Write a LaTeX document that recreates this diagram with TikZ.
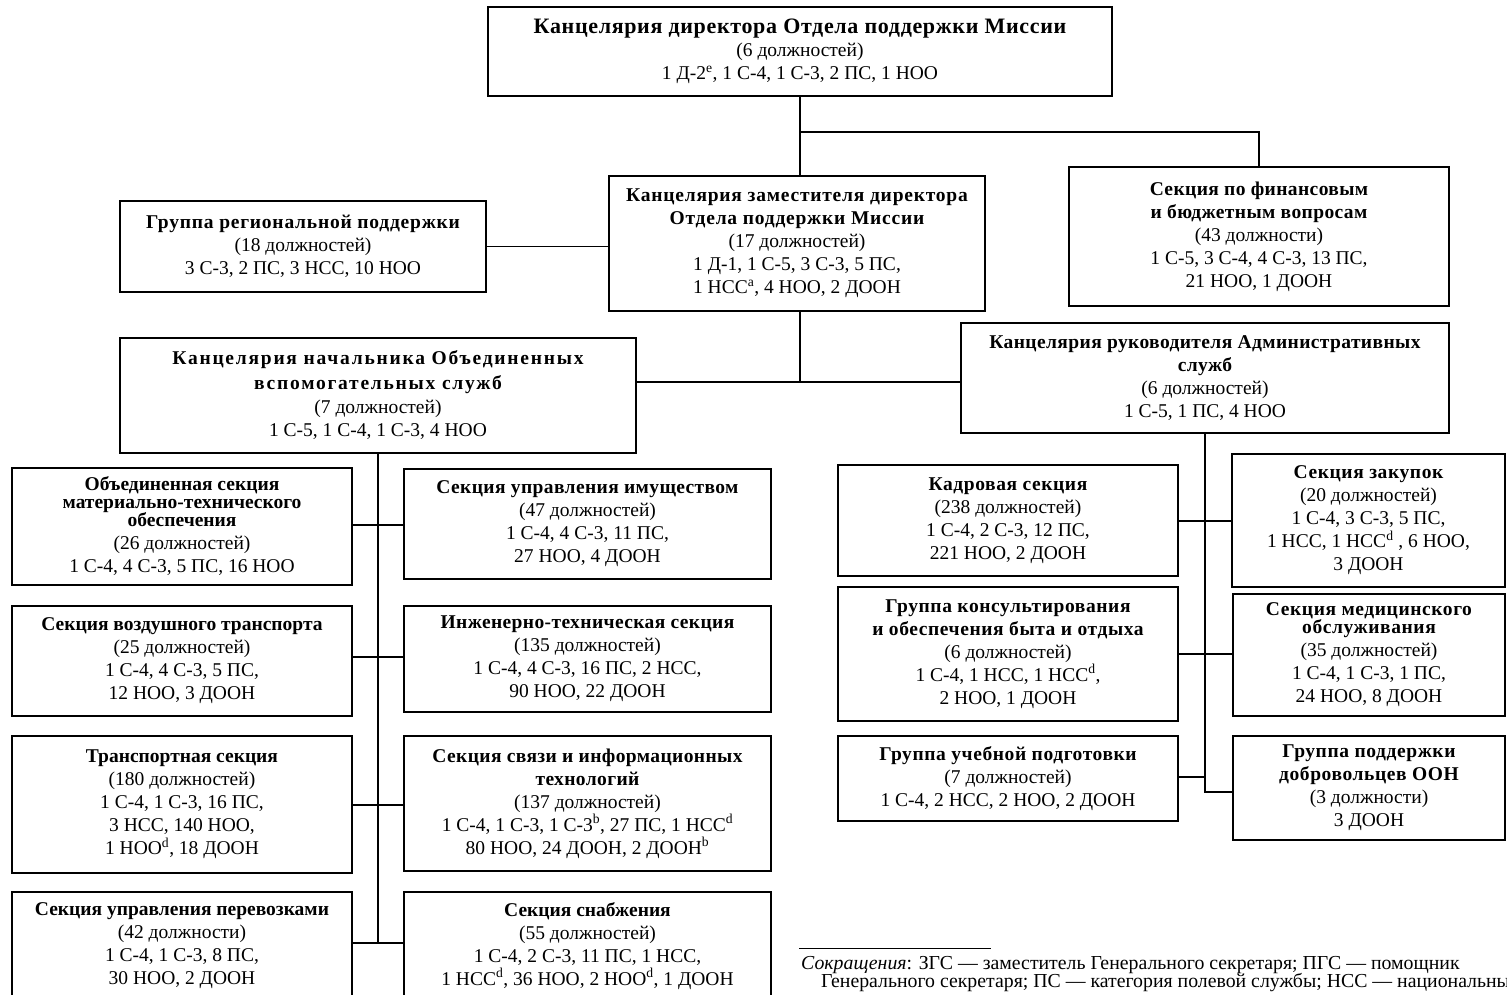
\documentclass[tikz,border=0pt]{standalone}
\usepackage{fontspec}
\setmainfont{Liberation Serif}
\newfontfamily\fnfont{Liberation Serif}
\tikzset{
  box/.style={draw, line width=1.5pt, align=center, inner sep=0pt,
    font=\fontsize{19.5}{23}\selectfont},
  conn/.style={line width=1.5pt},
}
\newcommand\mybox[6]{%
  \pgfmathsetmacro\cxx{(#2+#4)/2}\pgfmathsetmacro\cyy{(#3+#5)/2}%
  \pgfmathsetmacro\ww{#4-#2}\pgfmathsetmacro\hh{#5-#3}%
  \node[box, minimum width=\ww pt, minimum height=\hh pt] (#1) at (\cxx,\cyy) {#6};}
\newcommand\sx[1]{\textsuperscript{#1}}
\newcommand\tls[2]{{\bfseries\addfontfeature{LetterSpace=#1}#2}}
\begin{document}
\begin{tikzpicture}[x=1pt,y=-1pt]
\useasboundingbox (0,0) rectangle (1507,995);
\clip (0,0) rectangle (1507,995);
\fill[white] (0,0) rectangle (1507,995);
% top level
\mybox{top}{488}{7}{1112}{96}{\fontsize{21}{24}\selectfont{\fontsize{22}{24}\selectfont\tls{3}{Канцелярия директора Отдела поддержки Миссии}}\\(6 должностей)\\1 Д-2\sx{e}, 1 С-4, 1 С-3, 2 ПС, 1 НОО}
\mybox{dep}{609}{176}{985}{311}{\tls{4}{Канцелярия заместителя директора}\\\tls{4}{Отдела поддержки Миссии}\\(17 должностей)\\1 Д-1, 1 С-5, 3 С-3, 5 ПС,\\1 НСС\sx{a}, 4 НОО, 2 ДООН}
\mybox{reg}{120}{201}{486}{292}{\tls{4}{Группа региональной поддержки}\\(18 должностей)\\3 С-3, 2 ПС, 3 НСС, 10 НОО}
\mybox{fin}{1069}{167}{1449}{306}{\tls{2}{Секция по финансовым}\\\tls{2}{и бюджетным вопросам}\\(43 должности)\\1 С-5, 3 С-4, 4 С-3, 13 ПС,\\21 НОО, 1 ДООН}
\mybox{joint}{120}{338}{636}{453}{\tls{9}{Канцелярия начальника Объединенных}\\[2pt]\tls{9}{вспомогательных служб}\\[1pt](7 должностей)\\1 С-5, 1 С-4, 1 С-3, 4 НОО}
\mybox{adm}{961}{323}{1449}{433}{\tls{2}{Канцелярия руководителя Административных}\\\tls{2}{служб}\\(6 должностей)\\1 С-5, 1 ПС, 4 НОО}
% left column
\mybox{jl}{12}{468}{352}{585}{\textbf{Объединенная секция}\\[-5pt]\textbf{материально-технического}\\[-5pt]\textbf{обеспечения}\\(26 должностей)\\1 С-4, 4 С-3, 5 ПС, 16 НОО}
\mybox{air}{12}{606}{352}{716}{\textbf{Секция воздушного транспорта}\\(25 должностей)\\1 С-4, 4 С-3, 5 ПС,\\12 НОО, 3 ДООН}
\mybox{trans}{12}{736}{352}{873}{\textbf{Транспортная секция}\\(180 должностей)\\1 С-4, 1 С-3, 16 ПС,\\3 НСС, 140 НОО,\\1 НОО\sx{d}, 18 ДООН}
\mybox{move}{12}{892}{352}{1000}{\textbf{Секция управления перевозками}\\(42 должности)\\1 С-4, 1 С-3, 8 ПС,\\30 НОО, 2 ДООН}
% middle column
\mybox{prop}{404}{469}{771}{579}{\tls{2}{Секция управления имуществом}\\(47 должностей)\\1 С-4, 4 С-3, 11 ПС,\\27 НОО, 4 ДООН}
\mybox{eng}{404}{606}{771}{712}{\tls{2}{Инженерно-техническая секция}\\(135 должностей)\\1 С-4, 4 С-3, 16 ПС, 2 НСС,\\90 НОО, 22 ДООН}
\mybox{cits}{404}{736}{771}{871}{\tls{2}{Секция связи и информационных}\\\tls{2}{технологий}\\(137 должностей)\\1 С-4, 1 С-3, 1 С-3\sx{b}, 27 ПС, 1 НСС\sx{d}\\80 НОО, 24 ДООН, 2 ДООН\sx{b}}
\mybox{sup}{404}{892}{771}{1000}{\textbf{Секция снабжения}\\(55 должностей)\\1 С-4, 2 С-3, 11 ПС, 1 НСС,\\1 НСС\sx{d}, 36 НОО, 2 НОО\sx{d}, 1 ДООН}
% admin left column
\mybox{pers}{838}{465}{1178}{576}{\tls{3}{Кадровая секция}\\(238 должностей)\\1 С-4, 2 С-3, 12 ПС,\\221 НОО, 2 ДООН}
\mybox{couns}{838}{587}{1178}{721}{\tls{3}{Группа консультирования}\\\tls{3}{и обеспечения быта и отдыха}\\(6 должностей)\\1 С-4, 1 НСС, 1 НСС\sx{d},\\2 НОО, 1 ДООН}
\mybox{train}{838}{736}{1178}{821}{\tls{3}{Группа учебной подготовки}\\(7 должностей)\\1 С-4, 2 НСС, 2 НОО, 2 ДООН}
% admin right column
\mybox{proc}{1232}{454}{1505}{587}{\tls{3}{Секция закупок}\\(20 должностей)\\1 С-4, 3 С-3, 5 ПС,\\1 НСС, 1 НСС\sx{d} , 6 НОО,\\3 ДООН}
\mybox{med}{1233}{594}{1505}{716}{\tls{3}{Секция медицинского}\\[-5pt]\tls{3}{обслуживания}\\(35 должностей)\\1 С-4, 1 С-3, 1 ПС,\\24 НОО, 8 ДООН}
\mybox{vol}{1233}{736}{1505}{840}{\tls{3}{Группа поддержки}\\\tls{3}{добровольцев ООН}\\(3 должности)\\3 ДООН}
% connectors, top part
\coordinate (j1) at (800,132);
\coordinate (j2) at (800,382);
\draw[conn] (top.south -| j1) -- (dep.north -| j1);
\draw[conn] (j1) -| (fin.north);
\draw[conn] (reg.east) -- (reg.east -| dep.west);
\draw[conn] (dep.south -| j2) -- (j2);
\draw[conn] (joint.east |- j2) -- (adm.west |- j2);
% joint services trunk
\coordinate (r1) at (378,525);
\coordinate (r2) at (378,657);
\coordinate (r3) at (378,805);
\coordinate (r4) at (378,943);
\draw[conn] (joint.south -| r1) -- (r4);
\draw[conn] (jl.east |- r1) -- (prop.west |- r1);
\draw[conn] (air.east |- r2) -- (eng.west |- r2);
\draw[conn] (trans.east |- r3) -- (cits.west |- r3);
\draw[conn] (move.east |- r4) -- (sup.west |- r4);
% admin trunk
\coordinate (s1) at (1205,521);
\coordinate (s2) at (1205,654);
\coordinate (s3) at (1205,777);
\coordinate (s4) at (1205,792);
\draw[conn] (adm.south -| s1) -- (s4) -- (vol.west |- s4);
\draw[conn] (pers.east |- s1) -- (proc.west |- s1);
\draw[conn] (couns.east |- s2) -- (med.west |- s2);
\draw[conn] (train.east |- s3) -- (s3);
% footnote
\coordinate (fa) at (799,948);
\coordinate (fb) at (991,948);
\draw[line width=0.9pt] (fa) -- (fb);
\node[anchor=base west, inner sep=0pt, font=\fnfont\fontsize{19.8}{20}\selectfont] (fn1) at (801,969)
  {\textit{Сокращения}: ЗГС — заместитель Генерального секретаря; ПГС — помощник};
\node[anchor=base west, inner sep=0pt, font=\fnfont\fontsize{19.8}{20}\selectfont] (fn2) at (821,987)
  {Генерального секретаря; ПС — категория полевой службы; НСС — национальные};
\end{tikzpicture}
\end{document}
